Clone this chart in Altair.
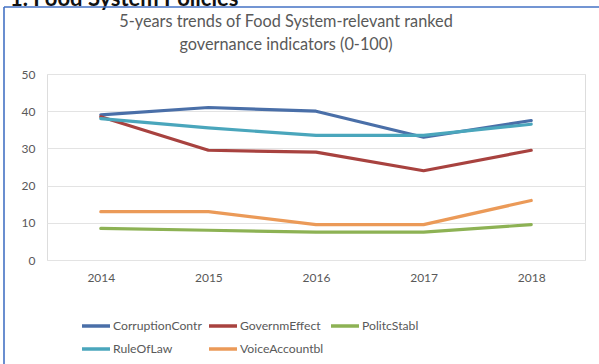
import altair as alt
import pandas as pd

years = ["2014", "2015", "2016", "2017", "2018"]
series_names = ["CorruptionContr", "GovernmEffect", "PolitcStabl", "RuleOfLaw", "VoiceAccountbl"]
corruption = [39, 41, 40, 33, 37.5]
governm = [38.5, 29.5, 29, 24, 29.5]
politic = [8.5, 8, 7.5, 7.5, 9.5]
ruleoflaw = [38, 35.5, 33.5, 33.5, 36.5]
voice = [13, 13, 9.5, 9.5, 16]
colors = ["#4A6FA8", "#A8423F", "#8DB254", "#4AA6BC", "#EB9A58"]
title_line1 = ["5-years trends of Food System-relevant ranked"]
title_line2 = ["governance indicators (0-100)"]
heading_text = ["1. Food System Policies"]

values = [corruption, governm, politic, ruleoflaw, voice]
rows = []
for si, (name, vals) in enumerate(zip(series_names, values)):
    for y, v in zip(years, vals):
        rows.append({"Year": y, "Series": name, "Value": v, "ord": si})
df = pd.DataFrame(rows)

FONT = "Lato"
GRAY = "#595959"

lines = alt.Chart(df).mark_line(strokeWidth=3.2, strokeCap="round", strokeJoin="round").encode(
    x=alt.X("Year:N", sort=years, scale=alt.Scale(paddingOuter=0.5, paddingInner=0),
            axis=alt.Axis(title=None, labelAngle=0, labelFont=FONT, labelFontSize=12,
                          labelColor=GRAY, labelPadding=12, ticks=False, domain=False, grid=False)),
    y=alt.Y("Value:Q", scale=alt.Scale(domain=[0, 50], nice=False),
            axis=alt.Axis(title=None, values=[0, 10, 20, 30, 40, 50], labelFont=FONT,
                          labelFontSize=12, labelColor=GRAY, labelPadding=12, ticks=False,
                          domain=False, grid=True, gridColor="#E3E3E3", gridWidth=1)),
    color=alt.Color("Series:N", sort=series_names,
                    scale=alt.Scale(domain=series_names, range=colors),
                    legend=alt.Legend(title=None, orient="none", legendX=33, legendY=236,
                                      columns=3, direction="horizontal",
                                      symbolType="stroke", symbolSize=784, symbolStrokeWidth=3.5,
                                      labelFont=FONT, labelFontSize=12.2, labelColor=GRAY,
                                      labelOffset=1, columnPadding=0, rowPadding=-13,
                                      padding=0)),
    order=alt.Order("ord:Q"),
    detail="Series:N",
)

def title_text(lines_, yv):
    return alt.Chart(pd.DataFrame({"t": lines_})).mark_text(
        font=FONT, fontSize=16.3, color=GRAY, align="center", baseline="middle"
    ).encode(text="t:N", x=alt.value(239), y=alt.value(yv))

title1 = title_text(title_line1, -52)
title2 = title_text(title_line2, -29)

heading = alt.Chart(pd.DataFrame({"t": heading_text})).mark_text(
    font=FONT, fontSize=22, fontWeight="bold", color="#111111", align="left", baseline="alphabetic"
).encode(text="t:N", x=alt.value(-37), y=alt.value(-68))

border = alt.Chart(pd.DataFrame({"a": [0]})).mark_rule(color="#4472C4", strokeWidth=1.6)
border_top = border.encode(x=alt.value(-43), x2=alt.value(560), y=alt.value(-67))
border_left = border.encode(x=alt.value(-43), y=alt.value(-67), y2=alt.value(300))

chart = alt.layer(lines, title1, title2, heading, border_top, border_left).properties(
    width=538, height=186,
    autosize=alt.AutoSizeParams(type="none"),
    padding={"left": 47, "top": 74, "right": 14, "bottom": 104},
).configure_view(stroke=None).configure(background="white")

chart.save("out.html", embed_options={"renderer": "svg", "actions": False})
